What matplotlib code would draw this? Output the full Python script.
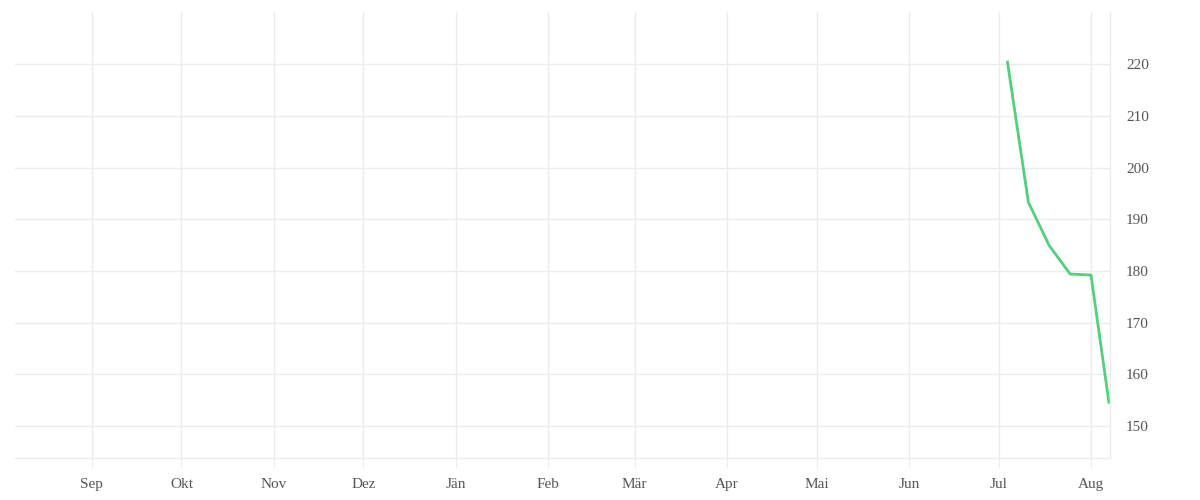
import datetime as dt
import matplotlib
matplotlib.use("Agg")
import matplotlib.pyplot as plt

# weekly values
dates = [dt.datetime(2024, 7, 4), dt.datetime(2024, 7, 11), dt.datetime(2024, 7, 18),
         dt.datetime(2024, 7, 25), dt.datetime(2024, 8, 1), dt.datetime(2024, 8, 7)]
values = [220.4, 193.3, 184.9, 179.4, 179.2, 154.6]

month_ticks = [dt.datetime(2023, 9, 1), dt.datetime(2023, 10, 1), dt.datetime(2023, 11, 1),
               dt.datetime(2023, 12, 1), dt.datetime(2024, 1, 1), dt.datetime(2024, 2, 1),
               dt.datetime(2024, 3, 1), dt.datetime(2024, 4, 1), dt.datetime(2024, 5, 1),
               dt.datetime(2024, 6, 1), dt.datetime(2024, 7, 1), dt.datetime(2024, 8, 1)]
month_labels = ["Sep", "Okt", "Nov", "Dez", "Jän", "Feb", "Mär", "Apr", "Mai", "Jun", "Jul", "Aug"]
y_ticks = [150, 160, 170, 180, 190, 200, 210, 220]

grid_col = "#ececec"
text_col = "#555555"

plt.rcParams['font.family'] = ['Liberation Serif', 'DejaVu Serif']

fig = plt.figure(figsize=(12, 5), dpi=100)
ax = fig.add_axes([0.0125, 0.084, 0.9125, 0.892])

ax.plot(dates, values, color="#4fd27e", lw=2.0, solid_joinstyle="round")

ax.set_xlim(dt.datetime(2023, 8, 6, 5), dt.datetime(2024, 8, 7, 9))
ax.set_ylim(143.8, 230.1)

ax.set_xticks(month_ticks)
ax.set_xticklabels(month_labels)
ax.set_yticks(y_ticks)
ax.yaxis.tick_right()

ax.grid(True, color=grid_col, lw=1)
for side in ["top", "left"]:
    ax.spines[side].set_visible(False)
for side in ["bottom", "right"]:
    ax.spines[side].set_color(grid_col)
    ax.spines[side].set_linewidth(1)

ax.tick_params(axis="x", length=7, color=grid_col, labelsize=11, labelcolor=text_col, pad=7.5)
ax.tick_params(axis="y", length=0, labelsize=11, labelcolor=text_col, pad=11.5)

fig.savefig("out.png", dpi=100)
